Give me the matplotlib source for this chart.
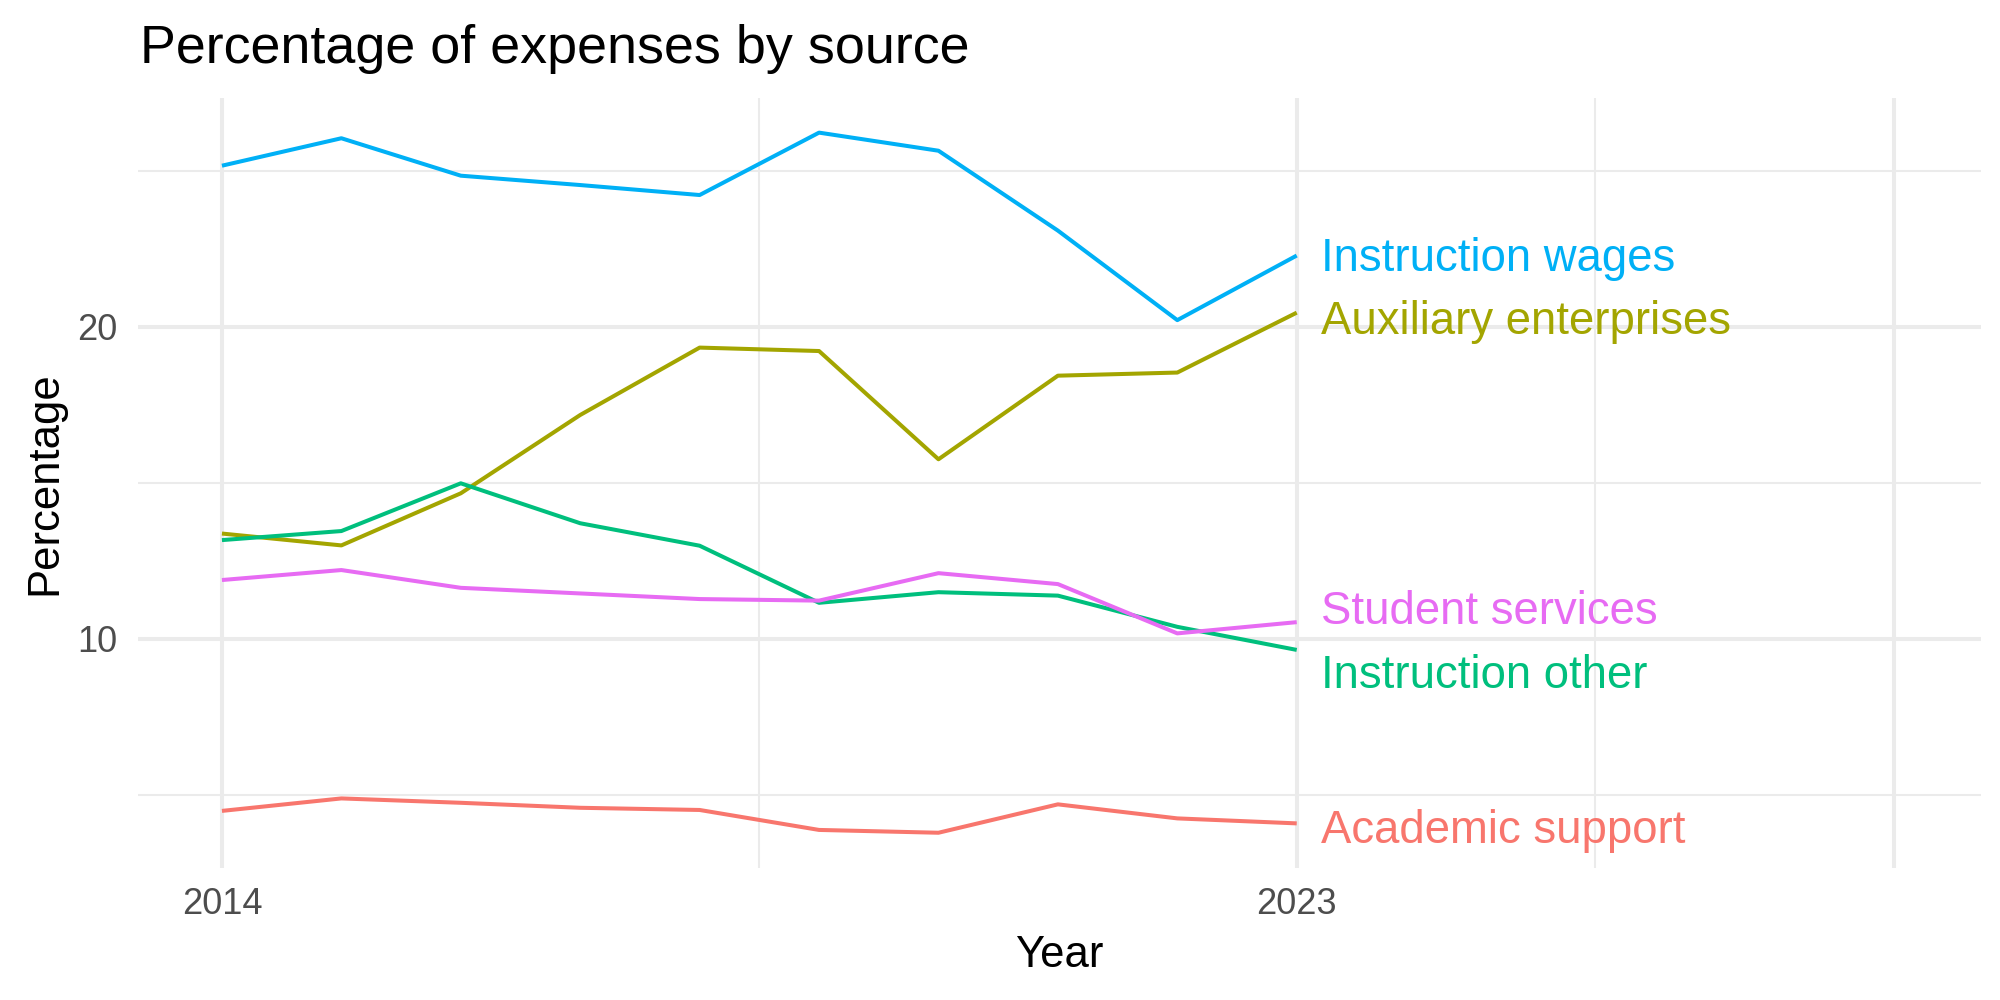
import matplotlib
matplotlib.use('Agg')
import matplotlib.pyplot as plt

# data (percent of expenses)
years = [2014, 2015, 2016, 2017, 2018, 2019, 2020, 2021, 2022, 2023]
academic_support = [4.48, 4.88, 4.74, 4.58, 4.51, 3.87, 3.78, 4.69, 4.24, 4.08]
auxiliary_enterprises = [13.37, 12.99, 14.66, 17.17, 19.33, 19.22, 15.75, 18.43, 18.53, 20.45]
instruction_other = [13.16, 13.45, 14.98, 13.70, 12.98, 11.15, 11.49, 11.38, 10.38, 9.64]
instruction_wages = [25.16, 26.04, 24.84, 24.54, 24.22, 26.22, 25.64, 23.08, 20.21, 22.28]
student_services = [11.88, 12.20, 11.63, 11.45, 11.27, 11.22, 12.10, 11.75, 10.17, 10.53]

sources = ['Academic support', 'Auxiliary enterprises', 'Instruction other',
           'Instruction wages', 'Student services']
series = [academic_support, auxiliary_enterprises, instruction_other,
          instruction_wages, student_services]
colors = ['#F8766D', '#A3A500', '#00BF7D', '#00B0F6', '#E76BF3']
# where the end labels sit (a bit repelled from each other)
label_y = [4.0, 20.31, 8.97, 22.34, 11.02]

plt.rcParams['font.family'] = ['Liberation Sans', 'DejaVu Sans']

fig = plt.figure(figsize=(10, 5), dpi=200)
ax = fig.add_axes([138 / 2000, 1 - 868 / 1000, (1981 - 138) / 2000, (868 - 98) / 1000])

# lines, one per source
for name, vals, c in zip(sources, series, colors):
    ax.plot(years, vals, color=c, lw=1.45, solid_capstyle='butt', zorder=3)

# end labels
for name, ly, c in zip(sources, label_y, colors):
    ax.text(years[-1] + 0.2, ly, name, color=c, fontsize=16.4,
            ha='left', va='center_baseline', zorder=4, clip_on=False)

ax.set_xlim(2013.297, 2028.73)
ax.set_ylim(2.65, 27.33)

# ticks and grid like theme_minimal
ax.set_xticks([2014, 2023, 2028])
ax.set_xticklabels(['2014', '2023', ''])
ax.set_xticks([2018.5, 2025.5], minor=True)
ax.set_yticks([10, 20])
ax.set_yticks([5, 15, 25], minor=True)
ax.grid(which='major', color='#EBEBEB', lw=1.45, zorder=0)
ax.grid(which='minor', color='#EBEBEB', lw=0.75, zorder=0)
ax.set_axisbelow(True)
ax.tick_params(which='both', length=0)
ax.tick_params(axis='x', pad=6.8, labelsize=13, labelcolor='#4D4D4D')
ax.tick_params(axis='y', pad=7.5, labelsize=13, labelcolor='#4D4D4D')
for s in ax.spines.values():
    s.set_visible(False)

# titles
ax.set_xlabel('Year', fontsize=15.7, color='black')
ax.xaxis.label.set_va('baseline')
ax.xaxis.set_label_coords(0.5, -(966.7 - 868) / 770)
ax.set_ylabel('Percentage', fontsize=15.7, color='black')
ax.yaxis.label.set_va('baseline')
ax.yaxis.set_label_coords((56.7 - 138) / 1843, 0.5)

fig.text(140 / 2000, 1 - 62.7 / 1000, 'Percentage of expenses by source',
         fontsize=19.4, ha='left', va='baseline', color='black')

fig.savefig('out.png', dpi=200, facecolor='white')
